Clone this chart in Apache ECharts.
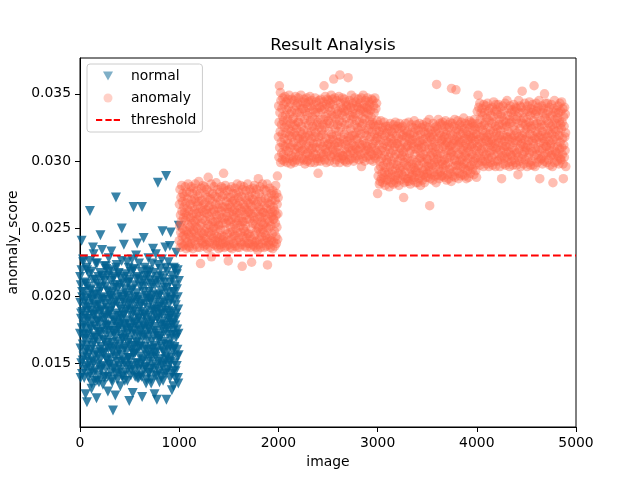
<!DOCTYPE html>
<html>
<head>
<meta charset="utf-8">
<title>Result Analysis</title>
<script src="https://cdn.jsdelivr.net/npm/echarts@6/dist/echarts.min.js"></script>
<style>
  html, body { margin: 0; padding: 0; background: #fff; }
  #chart { width: 640px; height: 480px; }
</style>
</head>
<body>
<div id="chart"></div>
<script>
// anomaly_score values, in units of 1e-4
// normalScore: one point every 2.5 images from 0; normalScoreB: every 5 images from 1.25
var normalScore = [
  172,195,161,208,183,150,219,176,142,199,188,164,227,171,155,203,181,139,192,168,
  210,158,185,147,198,176,221,163,121,189,154,207,172,194,140,183,216,167,151,200,
  263,177,146,204,189,160,218,135,181,197,170,152,212,186,143,231,165,193,178,156,
  201,169,144,187,224,158,192,175,137,209,181,149,196,166,214,173,141,203,188,160,
  182,217,153,198,171,145,206,162,190,234,176,148,213,184,157,199,167,139,222,179,
  158,194,173,207,146,185,220,163,191,152,178,215,140,197,174,161,228,186,149,203,
  170,189,154,211,177,143,198,165,219,184,136,202,159,115,193,172,147,214,181,162,
  196,155,208,174,142,273,187,166,223,151,180,199,138,206,176,160,217,185,148,192,
  164,201,179,145,213,171,190,156,226,183,140,197,168,209,152,186,174,238,161,195,
  178,150,205,169,188,143,216,175,159,200,182,137,210,165,193,154,221,179,147,198,
  167,212,153,189,176,141,204,185,160,227,172,148,196,181,157,219,266,163,190,174,
  144,208,179,158,195,171,230,150,186,202,165,139,214,177,161,199,183,146,224,170,
  192,155,207,174,149,188,163,218,181,140,266,196,169,152,211,178,145,203,187,159,
  176,221,162,194,147,184,209,171,138,200,180,156,215,167,191,151,228,175,143,198,
  185,160,212,173,146,197,179,135,206,166,189,154,224,182,149,201,170,158,217,188,
  163,195,141,208,177,155,231,172,190,147,123,183,161,214,284,170,151,199,186,144,
  210,168,193,153,220,179,140,204,187,162,227,175,148,196,181,137,213,166,192,158,
  173,206,150,189,236,164,143,289,178,199,155,218,183,145,202,171,160,225,187,152,
  194,176,210,139,185,163,247,180,154,198,171,142,215,188,159,203,174,133,221,182,
  161,197,150,208,178,144,193,169,232,184,148,205,175,160,219,139,190,172,156,211
];
var normalScoreB = [
  214,139,187,241,203,152,225,178,145,196,171,127,209,160,219,183,148,191,157,226,
  142,205,175,131,198,163,236,150,186,137,212,169,201,124,224,181,155,193,136,207,
  173,245,147,189,158,215,134,197,167,211,140,184,222,153,178,204,129,165,218,188,
  149,200,161,233,138,192,174,213,146,182,206,126,170,221,156,195,143,216,177,159,
  208,133,185,151,250,168,141,199,179,214,137,162,202,190,148,225,172,154,210,122,
  194,176,218,145,163,205,128,188,220,157,199,140,180,213,166,239,150,197,139,184,
  162,212,141,193,175,125,207,153,243,170,186,147,215,135,198,160,219,177,143,203,
  218,155,196,138,209,181,161,235,146,190,127,174,211,158,200,141,184,223,167,192,
  136,201,170,215,149,187,248,159,178,142,210,195,153,221,123,176,206,164,189,148,
  183,237,151,197,168,130,212,179,144,203,162,220,139,187,171,216,155,199,135,252
];
// anomaly segments: one point every 2.5 images from 1000, 2000, 3000, 4000
var anomalyScore1 = [
  241,268,252,279,236,260,247,273,255,239,282,263,244,270,250,276,237,258,266,245,
  274,249,262,238,281,256,243,269,235,260,277,248,265,240,272,253,283,246,259,237,
  263,236,277,251,244,268,258,239,281,247,271,254,242,266,276,235,261,249,280,256,
  248,272,241,264,255,283,238,270,251,261,244,278,257,236,267,250,274,243,262,285,
  270,245,259,236,276,252,224,265,241,280,254,247,271,239,263,257,282,246,268,240,
  237,262,281,248,269,243,256,275,238,264,250,279,242,261,235,273,253,288,247,266,
  259,277,240,267,252,236,272,257,245,283,229,262,248,270,239,276,255,243,264,251,
  281,246,263,238,274,255,241,268,250,284,237,260,273,244,257,279,240,265,253,235,
  252,268,243,277,260,238,271,249,236,263,281,245,258,274,242,266,254,239,280,291,
  244,275,257,236,266,249,282,240,262,254,270,237,259,278,246,265,241,273,226,256,
  268,238,262,279,247,255,236,273,251,266,242,281,257,235,270,248,263,276,244,260,
  239,271,253,264,245,280,237,258,269,250,276,241,262,254,283,236,267,247,273,256,
  277,243,261,236,270,252,265,240,282,247,258,274,238,263,222,255,279,244,268,250,
  255,281,240,266,248,273,237,260,252,278,243,264,236,271,257,246,283,239,262,269,
  246,263,274,239,257,279,244,268,236,261,250,277,225,266,242,272,254,238,280,259,
  271,237,256,282,245,262,240,275,253,236,268,248,279,241,263,257,234,270,250,287,
  238,266,251,276,242,259,281,247,264,236,273,255,244,270,258,239,283,249,262,253,
  262,247,279,236,267,254,241,272,260,245,278,237,265,251,283,243,223,257,269,240,
  250,273,238,261,255,280,243,268,236,264,252,276,241,259,271,246,262,235,278,257,
  266,240,257,275,248,263,237,271,254,282,244,260,239,276,251,268,289,242,261,273
];
var anomalyScore2 = [
  318,341,303,329,356,310,336,322,351,299,345,314,327,306,339,320,301,333,347,312,
  330,305,342,317,300,325,348,311,334,302,321,344,308,327,338,299,316,331,346,313,
  340,307,324,349,302,319,335,310,328,343,298,322,337,304,318,346,312,331,300,326,
  303,332,314,345,321,299,338,309,327,348,306,319,341,301,324,336,311,343,317,329,
  347,310,329,304,336,317,300,342,322,307,333,349,313,326,302,339,320,308,344,315,
  316,339,301,323,346,309,331,298,337,318,343,305,328,312,347,300,334,321,306,340,
  301,327,344,311,319,336,304,348,315,330,299,341,322,309,345,317,303,333,326,310,
  338,313,306,342,324,299,331,318,347,305,336,321,310,344,302,327,339,314,300,329,
  291,336,318,302,345,325,309,340,313,331,300,346,319,306,338,323,303,341,311,327,
  320,344,305,331,356,314,339,301,325,348,309,333,317,299,342,306,328,346,312,335,
  307,330,345,313,322,340,300,328,316,343,304,337,311,349,320,303,334,318,346,309,
  342,316,327,361,305,333,312,347,299,324,339,308,331,301,345,319,335,306,327,314,
  311,337,303,322,348,314,330,299,364,306,343,318,325,340,302,336,313,329,347,304,
  334,304,339,316,301,346,320,309,337,327,300,344,312,332,307,341,323,299,315,338,
  305,362,318,342,310,328,301,345,317,334,306,324,340,313,349,302,331,319,336,308,
  343,312,333,300,339,319,306,327,347,311,335,302,321,344,309,330,316,341,304,325,
  317,340,308,346,323,301,335,313,329,343,305,338,320,310,347,296,326,339,312,332,
  302,328,349,315,337,306,342,321,300,331,313,345,308,336,319,303,340,324,311,347,
  339,309,323,335,304,344,316,330,342,307,327,301,338,318,333,310,346,305,322,329,
  313,345,300,327,341,311,336,304,320,347,315,326,302,339,308,323,343,317,330,306
];
var anomalyScore3 = [
  276,318,289,305,327,294,312,283,322,300,285,316,296,330,308,287,320,302,291,325,
  310,284,323,297,313,288,329,304,292,319,282,307,326,295,315,286,301,321,290,311,
  299,326,286,314,303,292,324,281,309,318,296,328,288,306,317,284,322,300,313,293,
  321,290,308,283,327,298,315,303,286,324,311,294,329,289,305,319,284,313,297,326,
  287,313,300,324,291,317,282,306,328,295,310,286,320,302,293,325,309,290,316,304,
  326,296,319,289,307,273,314,299,284,323,303,292,328,310,287,318,297,321,285,311,
  302,322,287,312,296,329,285,317,306,291,320,300,283,315,308,294,327,289,313,298,
  316,290,325,301,286,311,321,295,330,288,305,318,293,324,284,309,299,327,292,314,
  295,319,284,309,323,297,312,287,302,328,291,315,306,282,320,303,289,325,310,300,
  313,286,327,293,316,305,290,322,299,284,311,326,294,317,288,307,320,296,329,302,
  291,314,301,325,288,321,296,309,331,293,267,318,304,287,323,298,312,290,316,306,
  320,297,310,286,328,303,318,292,314,299,325,289,307,322,296,311,284,326,357,301,
  305,324,290,317,302,331,294,309,287,321,298,313,328,292,306,319,289,315,300,327,
  289,316,329,298,311,295,322,305,288,318,301,326,293,312,330,297,308,320,286,314,
  323,302,290,314,327,299,317,287,308,325,294,311,303,329,291,320,306,285,354,312,
  307,328,296,319,289,313,304,326,292,316,301,331,288,310,322,297,353,315,300,324,
  293,318,306,330,297,312,287,323,305,316,291,327,300,314,289,320,309,296,329,303,
  326,301,315,290,321,308,295,332,311,298,324,289,317,304,328,294,313,306,287,320,
  299,322,310,293,327,302,316,288,319,307,330,296,312,325,291,318,303,329,297,311,
  317,305,328,294,313,323,300,318,290,326,309,331,297,315,302,324,293,320,308,288
];
var anomalyScore4 = [
  320,303,337,311,328,349,299,316,340,306,325,313,343,297,331,318,302,336,309,326,
  314,339,300,323,334,307,319,296,342,311,327,304,336,317,300,329,321,341,305,315,
  332,298,318,343,310,325,302,337,314,296,330,320,306,339,312,323,299,334,316,308,
  303,328,340,315,297,333,311,322,344,305,318,329,300,337,313,296,326,342,309,321,
  338,310,324,300,335,317,306,342,314,327,301,331,319,296,340,308,323,335,303,316,
  287,333,312,327,304,341,319,298,330,309,337,315,302,325,343,311,297,329,318,306,
  311,326,345,303,318,334,299,322,339,307,316,331,296,328,312,341,305,320,336,300,
  329,304,317,338,310,297,333,314,326,342,301,319,308,337,323,299,315,340,306,331,
  297,339,321,306,333,315,290,328,303,345,318,309,336,300,324,341,312,296,330,317,
  340,313,302,352,319,328,305,336,311,298,332,321,307,343,316,301,327,338,310,324,
  308,331,318,296,341,312,325,303,337,315,299,329,344,306,320,334,310,297,326,339,
  324,300,336,315,307,342,319,297,330,313,338,356,304,327,317,296,335,309,322,343,
  316,337,305,328,299,321,340,310,333,302,318,345,308,325,287,314,338,301,330,319,
  302,327,341,309,322,298,336,317,304,339,313,326,300,350,315,332,306,343,320,311,
  335,311,299,330,318,343,306,323,337,301,328,315,340,308,321,297,333,312,326,304,
  313,342,320,305,334,296,327,284,316,339,303,324,310,345,299,331,318,336,307,322,
  328,306,338,316,300,332,311,341,304,323,336,298,319,330,309,343,314,302,327,337,
  301,324,344,310,329,305,317,339,298,287,333,312,326,303,340,318,308,335,321,296
];
var segmentStart = [1000, 2000, 3000, 4000];
var imageStep = 2.5;
var threshold = 0.023;
var yTicks = [0.015, 0.020, 0.025, 0.030, 0.035];

function toPoints(scores, start, step) {
  return scores.map(function (s, i) {
    return [start + i * step, s / 10000];
  });
}

var normalPoints = toPoints(normalScore, 0, imageStep)
  .concat(toPoints(normalScoreB, 1.25, 2 * imageStep));

var anomalyPoints = []
  .concat(toPoints(anomalyScore1, segmentStart[0], imageStep))
  .concat(toPoints(anomalyScore2, segmentStart[1], imageStep))
  .concat(toPoints(anomalyScore3, segmentStart[2], imageStep))
  .concat(toPoints(anomalyScore4, segmentStart[3], imageStep));

var myChart = echarts.init(document.getElementById('chart'), null, { renderer: 'canvas' });
var font = 'DejaVu Sans';

var option = {
  animation: false,
  title: {
    text: 'Result Analysis',
    left: 328,
    top: 32,
    textAlign: 'center',
    textStyle: { fontFamily: font, fontSize: 16.7, fontWeight: 'normal', color: '#000' }
  },
  grid: {
    left: 80, right: 64, top: 58, bottom: 53,
    show: true, borderColor: '#000', borderWidth: 1,
    outerBoundsMode: 'none'
  },
  legend: {
    orient: 'vertical',
    left: 87,
    top: 64,
    padding: [5, 6, 5, 9],
    itemGap: 8,
    itemWidth: 24,
    itemHeight: 9,
    symbolRotate: 0,
    backgroundColor: 'rgba(255,255,255,0.8)',
    borderColor: '#cccccc',
    borderWidth: 1,
    borderRadius: 3,
    textStyle: { fontFamily: font, fontSize: 13.9, color: '#000', padding: [0, 0, 0, 6] },
    data: [
      { name: 'normal', icon: 'path://M0,0L10,0L5,9Z', itemStyle: { color: '#00608f', opacity: 0.5, borderWidth: 0 } },
      { name: 'anomaly', icon: 'circle', itemStyle: { color: '#ff6347', opacity: 0.3, borderWidth: 0 } },
      { name: 'threshold', icon: 'path://M0,0h6v2h-6zM9,0h6v2h-6zM17,0h6v2h-6z', itemStyle: { color: '#ff0000', opacity: 1, borderWidth: 0 } }
    ]
  },
  xAxis: {
    type: 'value',
    min: 0,
    max: 5000,
    interval: 1000,
    name: 'image',
    nameLocation: 'middle',
    nameGap: 28,
    nameTextStyle: { fontFamily: font, fontSize: 13.9, color: '#000' },
    axisLine: { onZero: false, lineStyle: { color: '#000', width: 1 } },
    axisTick: { inside: false, length: 5, lineStyle: { color: '#000' } },
    axisLabel: {
      margin: 9, fontFamily: font, fontSize: 13.9, color: '#000',
      formatter: function (v) { return String(v); }
    },
    splitLine: { show: false }
  },
  yAxis: {
    type: 'value',
    min: 0.01027,
    max: 0.03766,
    name: 'anomaly_score',
    nameLocation: 'middle',
    nameGap: 49,
    nameTextStyle: { fontFamily: font, fontSize: 13.9, color: '#000' },
    axisLine: { show: true, onZero: false, lineStyle: { color: '#000', width: 1 } },
    axisTick: { show: true, inside: false, length: 5, lineStyle: { color: '#000' }, customValues: yTicks },
    axisLabel: {
      margin: 9, fontFamily: font, fontSize: 13.9, color: '#000',
      customValues: yTicks,
      formatter: function (v) { return v.toFixed(3); }
    },
    splitLine: { show: false }
  },
  series: [
    {
      name: 'normal',
      type: 'scatter',
      symbol: 'triangle',
      symbolRotate: 180,
      symbolSize: 10,
      progressive: 0,
      itemStyle: { color: '#00608f', opacity: 0.78 },
      data: normalPoints,
      z: 2
    },
    {
      name: 'anomaly',
      type: 'scatter',
      symbol: 'circle',
      symbolSize: 9.5,
      progressive: 0,
      itemStyle: { color: '#ff6347', opacity: 0.42 },
      data: anomalyPoints,
      z: 3
    },
    {
      name: 'threshold',
      type: 'line',
      showSymbol: false,
      symbol: 'none',
      lineStyle: { color: '#ff0000', width: 2, type: [7.7, 3.3] },
      data: [[0, threshold], [5000, threshold]],
      z: 5
    }
  ]
};

myChart.setOption(option);
window.addEventListener("resize", function () {
  myChart.resize();
});
</script>
</body>
</html>
